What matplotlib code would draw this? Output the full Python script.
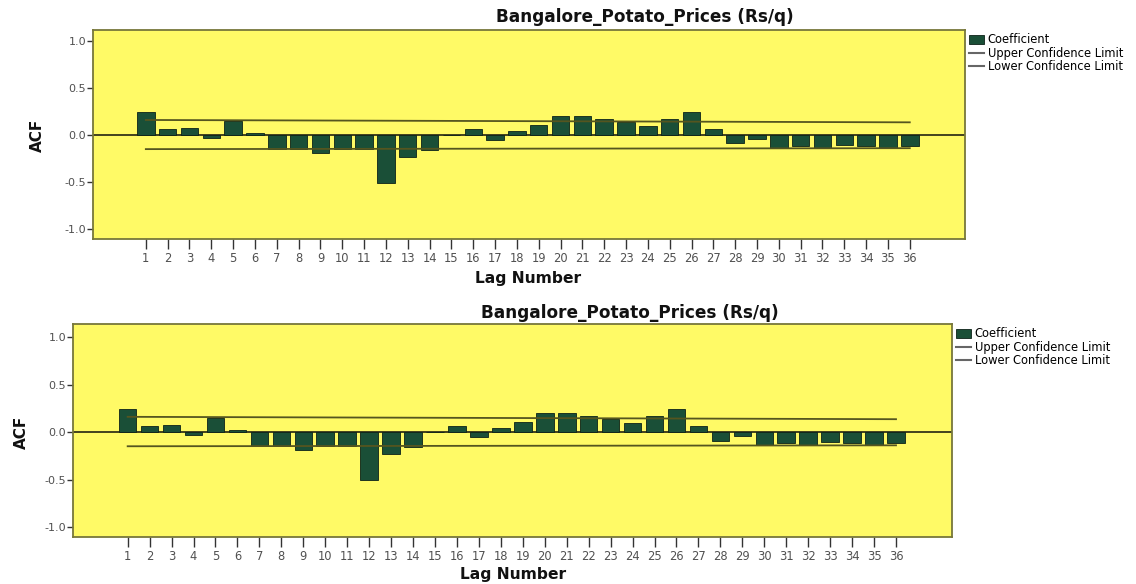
import matplotlib
matplotlib.use("Agg")
import matplotlib.pyplot as plt
from matplotlib.patches import Patch
from matplotlib.lines import Line2D

plt.rcParams["font.family"] = ["DejaVu Sans"]

# ---- data ----
lags = list(range(1, 37))
acf = [0.24, 0.06, 0.07, -0.03, 0.15, 0.02, -0.15, -0.15, -0.19, -0.15,
       -0.15, -0.51, -0.23, -0.16, 0.00, 0.06, -0.05, 0.04, 0.11, 0.20,
       0.20, 0.17, 0.14, 0.10, 0.17, 0.24, 0.06, -0.09, -0.04, -0.14,
       -0.12, -0.14, -0.11, -0.12, -0.14, -0.12]
conf_lags = [1, 36]
upper_conf = [0.16, 0.135]
lower_conf = [-0.15, -0.14]
yticks = [-1.0, -0.5, 0.0, 0.5, 1.0]
ytick_labels = ["-1.0", "-0.5", "0.0", "0.5", "1.0"]
title = "Bangalore_Potato_Prices (Rs/q)"
legend_labels = ["Coefficient", "Upper Confidence Limit", "Lower Confidence Limit"]

W, H = 1136, 584
fig = plt.figure(figsize=(W / 100, H / 100), dpi=100)
fig.patch.set_facecolor("white")

BG = "#FFFA66"
BAR = "#1A4F37"
SPINE = "#77773A"
CONF = "#55551F"
TICKC = "#505050"

panels = [
    dict(rect=(93, 30, 965, 239), xlim=(-1.42, 38.53), ylim=(-1.106, 1.117),
         title=(645, 17), xlabel=(528, 278), ylabel=(37, 135), legend=(967, 31)),
    dict(rect=(73, 324, 952, 537), xlim=(-1.49, 38.55), ylim=(-1.105, 1.137),
         title=(630, 313), xlabel=(513, 575), ylabel=(21, 432), legend=(954, 325)),
]

for p in panels:
    x0, y0, x1, y1 = p["rect"]
    ax = fig.add_axes([x0 / W, 1 - y1 / H, (x1 - x0) / W, (y1 - y0) / H])
    ax.set_facecolor(BG)
    ax.bar(lags, acf, width=0.8, color=BAR, edgecolor="#0d2218", linewidth=0.6, zorder=3)
    ax.axhline(0, color="#222211", linewidth=1.2, zorder=2)
    ax.plot(conf_lags, upper_conf, color=CONF, linewidth=1.3, zorder=4)
    ax.plot(conf_lags, lower_conf, color=CONF, linewidth=1.3, zorder=4)
    ax.set_xlim(*p["xlim"])
    ax.set_ylim(*p["ylim"])
    ax.set_xticks(lags)
    ax.set_xticklabels([str(l) for l in lags], fontsize=8.3, color=TICKC)
    ax.set_yticks(yticks)
    ax.set_yticklabels(ytick_labels, fontsize=8, color=TICKC)
    ax.tick_params(axis="x", length=7, width=1.0, color="#333333", pad=2)
    ax.tick_params(axis="y", length=4, width=1.0, color="#333333", pad=1)
    for s in ax.spines.values():
        s.set_color(SPINE)
        s.set_linewidth(1.3)
    tx, ty = p["title"]
    fig.text(tx / W, 1 - ty / H, title, ha="center", va="center",
             fontsize=12.2, fontweight="bold", color="#111111")
    lx, ly = p["xlabel"]
    fig.text(lx / W, 1 - ly / H, "Lag Number", ha="center", va="center",
             fontsize=11.2, fontweight="bold", color="#111111")
    yx, yy = p["ylabel"]
    fig.text(yx / W, 1 - yy / H, "ACF", ha="center", va="center", rotation=90,
             fontsize=11, fontweight="bold", color="#111111")
    handles = [Patch(facecolor=BAR, edgecolor="#0d2218", linewidth=0.6),
               Line2D([0], [0], color="#666666", linewidth=1.5),
               Line2D([0], [0], color="#666666", linewidth=1.5)]
    gx, gy = p["legend"]
    fig.legend(handles, legend_labels, loc="upper left",
               bbox_to_anchor=(gx / W, 1 - gy / H), frameon=False,
               fontsize=8.3, handlelength=1.3, handleheight=0.9,
               handletextpad=0.3, labelspacing=0.05, borderpad=0.2,
               borderaxespad=0)

fig.savefig("out.png", dpi=100, facecolor="white")
